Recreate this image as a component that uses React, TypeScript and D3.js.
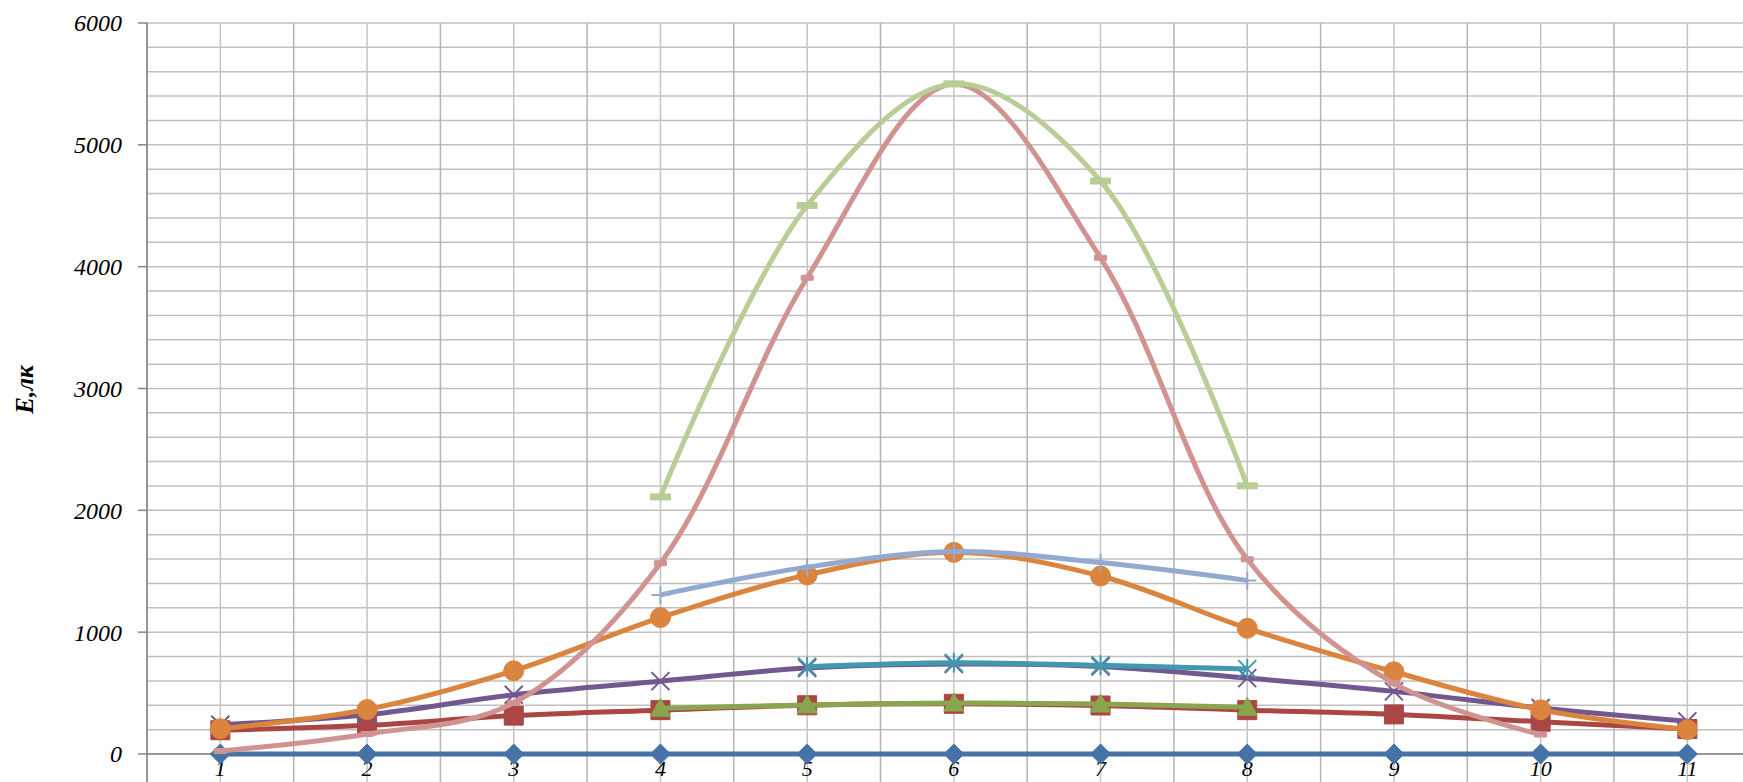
import { useEffect } from "react";
import * as d3 from "d3";

const FONT = "'Liberation Serif', 'Times New Roman', serif";

// Categories
const X_ALL = [1, 2, 3, 4, 5, 6, 7, 8, 9, 10, 11];
const X_MID = [4, 5, 6, 7, 8];
const X_STAR = [5, 6, 7, 8];
const X_PINK = [1, 2, 3, 4, 5, 6, 7, 8, 9, 10];

// Series values (E, лк)
const S1 = [0, 0, 0, 0, 0, 0, 0, 0, 0, 0, 0];
const S2 = [195, 235, 315, 360, 400, 412, 398, 360, 325, 265, 205];
const S3 = [375, 402, 418, 410, 383];
const S4 = [240, 322, 486, 598, 705, 738, 718, 623, 514, 377, 268];
const S5 = [716, 748, 728, 697];
const S6 = [208, 365, 683, 1120, 1470, 1655, 1461, 1032, 675, 363, 200];
const S7 = [1306, 1534, 1662, 1571, 1425];
const S8 = [25, 164, 420, 1566, 3909, 5500, 4073, 1598, 580, 160];
const S9 = [2110, 4502, 5500, 4703, 2201];

const Y_TICKS = [0, 1000, 2000, 3000, 4000, 5000, 6000];

type Marker = "diamond" | "square" | "triangle" | "x" | "star" | "circle" | "plus" | "dash" | "longdash";

const SERIES: { xs: number[]; ys: number[]; color: string; marker: Marker }[] = [
  { xs: X_ALL, ys: S1, color: "#4572A7", marker: "diamond" },
  { xs: X_ALL, ys: S2, color: "#AA4643", marker: "square" },
  { xs: X_MID, ys: S3, color: "#89A54E", marker: "triangle" },
  { xs: X_ALL, ys: S4, color: "#71588F", marker: "x" },
  { xs: X_STAR, ys: S5, color: "#4198AF", marker: "star" },
  { xs: X_ALL, ys: S6, color: "#DB843D", marker: "circle" },
  { xs: X_MID, ys: S7, color: "#93A9CF", marker: "plus" },
  { xs: X_PINK, ys: S8, color: "#D19392", marker: "dash" },
  { xs: X_MID, ys: S9, color: "#B9CD96", marker: "longdash" },
];

const W = 1743;
const H = 782;
const mg = { l: 147, t: 23 };
const UNIT = 146.7;

const x = d3.scaleLinear().domain([0.5, 11.5]).range([mg.l, mg.l + 11 * UNIT]);
const y = d3.scaleLinear().domain([0, 6000]).range([754, mg.t]);

function markerPath(m: Marker): { d: string; fill: boolean } {
  switch (m) {
    case "diamond": return { d: "M0,-10L10,0L0,10L-10,0Z", fill: true };
    case "square": return { d: "M-9.5,-9.5H9.5V9.5H-9.5Z", fill: true };
    case "triangle": return { d: "M0,-10L10,8L-10,8Z", fill: true };
    case "circle": return { d: "M-10,0A10,10 0 1,0 10,0A10,10 0 1,0 -10,0Z", fill: true };
    case "x": return { d: "M-9,-9L9,9M-9,9L9,-9", fill: false };
    case "star": return { d: "M-9,-9L9,9M-9,9L9,-9M0,-10V10", fill: false };
    case "plus": return { d: "M-9,0H9M0,-9V9", fill: false };
    case "dash": return { d: "M-6,-2.5H6V2.5H-6Z", fill: true };
    case "longdash": return { d: "M-10,-3H10V3H-10Z", fill: true };
  }
}

export default function App() {
  useEffect(() => {
    document.body.style.margin = "0";
  }, []);

  const line = d3.line<[number, number]>()
    .x((d) => x(d[0]))
    .y((d) => y(d[1]))
    .curve(d3.curveCatmullRom.alpha(0.5));

  const hGrid = d3.range(0, 6001, 200);
  const vGrid = d3.range(0.5, 11.6, 0.5);

  return (
    <svg width={W} height={H} style={{ display: "block", background: "#fff" }}>
      {/* grid */}
      {hGrid.map((v) => (
        <line key={"h" + v} x1={mg.l} x2={W} y1={y(v)} y2={y(v)} stroke="#c0c0c0" strokeWidth={1.5} />
      ))}
      {vGrid.map((v) => (
        <line key={"v" + v} x1={x(v)} x2={x(v)} y1={mg.t} y2={H}
          stroke={Number.isInteger(v) ? "#c4c4c4" : "#b4b4b4"} strokeWidth={1.5} />
      ))}
      {/* axes */}
      <line x1={mg.l} x2={mg.l} y1={mg.t} y2={H} stroke="#868686" strokeWidth={1.5} />
      <line x1={mg.l} x2={W} y1={y(0)} y2={y(0)} stroke="#868686" strokeWidth={1.5} />
      {Y_TICKS.map((t) => (
        <g key={"yt" + t}>
          <line x1={mg.l - 9} x2={mg.l} y1={y(t)} y2={y(t)} stroke="#868686" strokeWidth={1.5} />
          <text x={122} y={y(t)} dy="0.35em" textAnchor="end" fontFamily={FONT} fontStyle="italic"
            fontSize={24} fill="#000">{t}</text>
        </g>
      ))}
      {X_ALL.map((c) => (
        <text key={"xt" + c} x={x(c)} y={776} textAnchor="middle" fontFamily={FONT} fontStyle="italic"
          fontSize={22} fill="#000">{c}</text>
      ))}
      <text transform={`translate(33,${y(3000) + 1}) rotate(-90)`} textAnchor="middle" fontFamily={FONT}
        fontStyle="italic" fontWeight="bold" fontSize={25} fill="#000">E,лк</text>

      {/* series */}
      {SERIES.map((s, i) => {
        const pts = s.xs.map((xv, j) => [xv, s.ys[j]] as [number, number]);
        const mk = markerPath(s.marker);
        return (
          <g key={"s" + i}>
            <path d={line(pts) ?? ""} fill="none" stroke={s.color} strokeWidth={5} strokeLinejoin="round" />
            {pts.map((p, j) => (
              <path key={j} d={mk.d} transform={`translate(${x(p[0])},${y(p[1])})`}
                fill={mk.fill ? s.color : "none"} stroke={s.color} strokeWidth={mk.fill ? 1 : 2} />
            ))}
          </g>
        );
      })}
    </svg>
  );
}
